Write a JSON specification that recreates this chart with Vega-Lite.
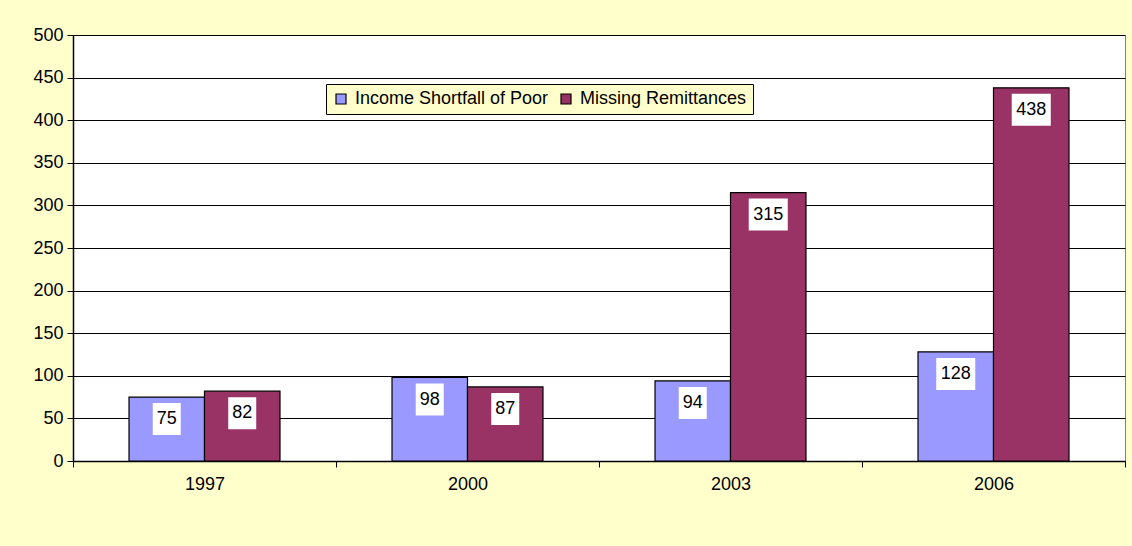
{
  "$schema": "https://vega.github.io/schema/vega-lite/v6.json",
  "autosize": {"type": "none"},
  "width": 1052,
  "height": 426,
  "padding": {"left": 73, "top": 35, "right": 7, "bottom": 85},
  "background": "#FFFFCC",
  "config": {
    "font": "Liberation Sans",
    "view": {"stroke": "#808080", "strokeWidth": 1, "fill": "white"},
    "axis": {"labelFont": "Liberation Sans", "labelFontSize": 18, "labelColor": "black", "domainColor": "black", "tickColor": "black", "gridColor": "black", "gridOpacity": 1, "title": null}
  },
  "data": {
    "values": [
      {"year": "1997", "series": "Income Shortfall of Poor", "value": 75},
      {"year": "1997", "series": "Missing Remittances", "value": 82},
      {"year": "2000", "series": "Income Shortfall of Poor", "value": 98},
      {"year": "2000", "series": "Missing Remittances", "value": 87},
      {"year": "2003", "series": "Income Shortfall of Poor", "value": 94},
      {"year": "2003", "series": "Missing Remittances", "value": 315},
      {"year": "2006", "series": "Income Shortfall of Poor", "value": 128},
      {"year": "2006", "series": "Missing Remittances", "value": 438}
    ]
  },
  "encoding": {
    "x": {
      "field": "year", "type": "nominal",
      "scale": {"paddingInner": 0, "paddingOuter": 0},
      "axis": {"labelAngle": 0, "tickBand": "extent", "tickSize": 6, "labelPadding": 8, "domainWidth": 1.5}
    },
    "xOffset": {
      "field": "series", "type": "nominal",
      "scale": {"paddingInner": 0, "paddingOuter": 0.742}
    },
    "y": {
      "field": "value", "type": "quantitative",
      "scale": {"domain": [0, 500], "nice": false},
      "axis": {"values": [0, 50, 100, 150, 200, 250, 300, 350, 400, 450, 500], "grid": true, "tickSize": 6, "labelPadding": 4, "domainWidth": 1.5, "gridWidth": 1}
    }
  },
  "layer": [
    {
      "mark": {"type": "bar", "stroke": "black", "strokeWidth": 1.2},
      "encoding": {
        "color": {
          "field": "series", "type": "nominal",
          "scale": {"domain": ["Income Shortfall of Poor", "Missing Remittances"], "range": ["#9999FF", "#993366"]},
          "legend": {
            "orient": "none", "legendX": 253, "legendY": 49, "direction": "horizontal", "title": null,
            "fillColor": "#FFFFCC", "strokeColor": "black", "padding": 6,
            "symbolType": "square", "symbolSize": 100, "symbolStrokeColor": "black", "symbolStrokeWidth": 1.2,
            "labelFontSize": 18, "labelFont": "Liberation Sans", "labelColor": "black", "labelLimit": 0, "columnPadding": 8, "labelOffset": 5
          }
        }
      }
    },
    {
      "transform": [{"filter": "datum.value < 100"}],
      "mark": {"type": "point", "filled": true, "fill": "white", "opacity": 1, "strokeWidth": 0, "shape": "M-0.875,-1H0.875V1H-0.875Z", "size": 1024, "yOffset": 22}
    },
    {
      "transform": [{"filter": "datum.value >= 100"}],
      "mark": {"type": "point", "filled": true, "fill": "white", "opacity": 1, "strokeWidth": 0, "shape": "M-1.22,-1H1.22V1H-1.22Z", "size": 1024, "yOffset": 22}
    },
    {
      "mark": {"type": "text", "fontSize": 18, "font": "Liberation Sans", "color": "black", "baseline": "middle", "yOffset": 22},
      "encoding": {"text": {"field": "value", "type": "quantitative"}}
    }
  ]
}
